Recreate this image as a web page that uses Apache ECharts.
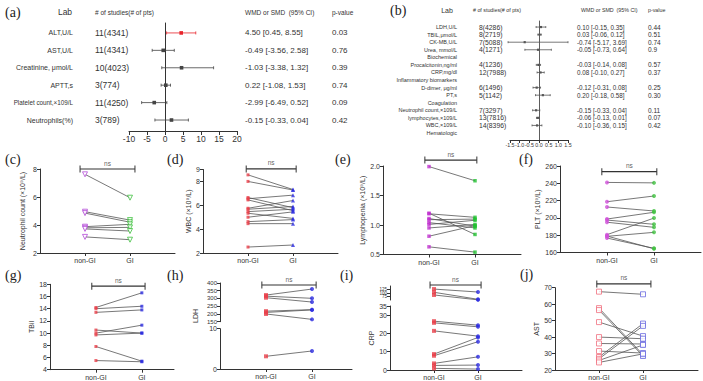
<!DOCTYPE html>
<html>
<head>
<meta charset="utf-8">
<script src="https://cdn.jsdelivr.net/npm/echarts@6/dist/echarts.min.js"></script>
<style>
html, body { margin: 0; padding: 0; background: #fff; }
#chart { width: 703px; height: 381px; }
</style>
</head>
<body>
<div id="chart"></div>
<script>
// ---------- (a) forest plot ----------
const labsA = ['ALT,U/L', 'AST,U/L', 'Creatinine, μmol/L', 'APTT,s', 'Platelet count,×109/L', 'Neutrophils(%)'];
const studiesA = ['11(4341)', '11(4341)', '10(4023)', '3(774)', '11(4250)', '3(789)'];
const estA = [4.5, -0.49, 4.6, 0.22, -2.99, 1.8];
const lowA = [0.45, -3.56, -0.9, -1.08, -6.49, -2.8];
const highA = [8.55, 2.58, 13.5, 1.53, 0.52, 6.5];
const ciTextA = ['4.50 [0.45, 8.55]', '-0.49 [-3.56, 2.58]', '-1.03 [-3.38, 1.32]', '0.22 [-1.08, 1.53]', '-2.99 [-6.49, 0.52]', '-0.15 [-0.33, 0.04]'];
const pA = ['0.03', '0.76', '0.39', '0.74', '0.09', '0.42'];

// ---------- (b) forest plot ----------
const labsB = ['LDH,U/L', 'TBIL,μmol/L', 'CK-MB,U/L', 'Urea, mmol/L', 'Biochemical', 'Procalcitonin,ng/ml', 'CRP,mg/dl',
  'Inflammatory biomarkers', 'D-dimer, μg/ml', 'PT,s', 'Coagulation', 'Neutrophil count,×109/L', 'lymphocytes,×109/L', 'WBC,×109/L', 'Hematologic'];
const studiesB = ['8(4286)', '8(2719)', '7(5088)', '4(1271)', '', '4(1236)', '12(7988)', '', '6(1496)', '5(1142)', '', '7(3297)', '13(7816)', '14(8396)', ''];
const estB = [0.10, 0.03, -0.74, -0.05, null, -0.03, 0.08, null, -0.12, 0.20, null, -0.15, -0.06, -0.10, null];
const lowB = [-0.15, -0.06, -1.6, -0.73, null, -0.14, -0.10, null, -0.31, -0.18, null, -0.33, -0.13, -0.36, null];
const highB = [0.35, 0.12, 1.5, 0.64, null, 0.08, 0.27, null, 0.08, 0.58, null, 0.04, 0.01, 0.15, null];
const ciTextB = ['0.10 [-0.15, 0.35]', '0.03 [-0.06, 0.12]', '-0.74 [-5.17, 3.69]', '-0.05 [-0.73, 0.64]', '', '-0.03 [-0.14, 0.08]', '0.08 [-0.10, 0.27]',
  '', '-0.12 [-0.31, 0.08]', '0.20 [-0.18, 0.58]', '', '-0.15 [-0.33, 0.04]', '-0.06 [-0.13, 0.01]', '-0.10 [-0.36, 0.15]', ''];
const pB = ['0.44', '0.51', '0.74', '0.9', '', '0.57', '0.37', '', '0.25', '0.30', '', '0.11', '0.07', '0.42', ''];

// ---------- paired panels ----------
const groups = ['non-GI', 'GI'];
const cNon = [7.62, 4.95, 4.85, 3.88, 3.8, 3.72, 3.15];
const cGi = [5.95, 4.35, 4.2, 4.05, 3.83, 3.57, 2.95];
const dNon = [8.55, 8.0, 6.65, 6.55, 6.45, 5.75, 5.67, 5.47, 5.33, 5.0, 4.63, 4.46, 2.5];
const dGi = [7.32, 7.28, 5.8, 6.85, 5.55, 6.4, 5.9, 5.67, 4.9, 5.45, 4.8, 4.46, 2.67];
const eNon = [1.99, 1.2, 1.19, 1.11, 1.09, 1.04, 1.01, 0.95, 0.81, 0.63];
const eGi = [1.75, 0.84, 1.13, 0.98, 1.1, 0.95, 1.08, 1.01, 0.99, 0.54];
const fNon = [241, 218.7, 212.6, 198.7, 197.5, 195, 180.6, 178.7, 176.7, 179];
const fGi = [240.5, 225.3, 208, 206.5, 192.6, 189.1, 199.8, 183.3, 164.8, 164.3];
const gNon = [14.2, 14.0, 13.4, 10.5, 10.0, 9.7, 7.8, 5.5];
const gGi = [16.6, 14.4, 13.8, 10.0, 11.3, 10.0, 5.4, 5.3];
const hNonHi = [322, 315, 305, 218, 210, 200];
const hGiHi = [361, 301, 277, 228, 226, 165];
const hNonLo = [3.15];
const hGiLo = [4.47];
const iNonHi = [128, 105, 86];
const iGiHi = [107, 55, 51];
const iNonLo = [26.7, 25.8, 21.4, 8.7, 7.8, 3.6, 2.5, 0.9];
const iGiLo = [24.5, 23.6, 18.5, 17.8, 15.5, 7.2, 2.7, 0.5];
const jNon = [67.6, 57.6, 56.4, 49.1, 40, 36.1, 31.5, 27.9, 26.8, 25.8, 24.6];
const jGi = [66, 29.3, 28.5, 40.6, 39, 35.8, 30.3, 48.2, 46.8, 35.2, 29.8];

const FONT = 'Liberation Sans, Arial, sans-serif';
const SERIF = 'Liberation Serif, DejaVu Serif, serif';
const DARK = '#333';

const chart = echarts.init(document.getElementById('chart'), null, { renderer: 'svg' });

const grids = [], xAxes = [], yAxes = [], series = [];

function addGrid(box, x, y) {
  const i = grids.length;
  grids.push(box);
  xAxes.push(Object.assign({ gridIndex: i }, x));
  yAxes.push(Object.assign({ gridIndex: i }, y));
  return i;
}

function forest(gi, est, lo, hi, rowY, colorOf, cap, pt) {
  const data = [];
  est.forEach((e, i) => {
    if (e === null) return;
    data.push({ value: [e, rowY(i), lo[i], hi[i]], c: colorOf(i) });
  });
  series.push({
    type: 'custom', xAxisIndex: gi, yAxisIndex: gi, data: data, clip: false,
    renderItem: function (params, api) {
      const it = data[params.dataIndex];
      const p = api.coord([api.value(0), api.value(1)]);
      const l = api.coord([api.value(2), api.value(1)]);
      const h = api.coord([api.value(3), api.value(1)]);
      const st = { stroke: it.c, lineWidth: 0.8 };
      return {
        type: 'group', children: [
          { type: 'line', shape: { x1: l[0], y1: l[1], x2: h[0], y2: h[1] }, style: st },
          { type: 'line', shape: { x1: l[0], y1: l[1] - cap, x2: l[0], y2: l[1] + cap }, style: st },
          { type: 'line', shape: { x1: h[0], y1: h[1] - cap, x2: h[0], y2: h[1] + cap }, style: st },
          { type: 'rect', shape: { x: p[0] - pt, y: p[1] - pt, width: pt * 2, height: pt * 2 }, style: { fill: it.c } }
        ]
      };
    }
  });
}

// (a)
const ga = addGrid({ left: 129, top: 23, width: 108, height: 108 },
  { type: 'value', min: -10, max: 20, interval: 5, axisLine: { lineStyle: { color: DARK } },
    axisTick: { length: 4, lineStyle: { color: DARK } },
    axisLabel: { fontSize: 8.5, color: DARK, margin: 3, fontFamily: FONT }, splitLine: { show: false } },
  { type: 'value', min: 0.37, max: 6.57, axisLine: { onZero: true, lineStyle: { color: DARK } },
    axisTick: { show: false }, axisLabel: { show: false }, splitLine: { show: false } });
forest(ga, estA, lowA, highA, i => 6 - i, i => (i === 0 ? '#e8232a' : '#444'), 1.5, 1.8);

// (b)
const gb = addGrid({ left: 510, top: 21, width: 58, height: 119 },
  { type: 'value', min: -1.5, max: 1.5, interval: 0.5, axisLine: { lineStyle: { color: DARK } },
    axisTick: { length: 3, lineStyle: { color: DARK } },
    axisLabel: { fontSize: 5.3, color: DARK, margin: 2, fontFamily: FONT, showMinLabel: true, showMaxLabel: true,
      hideOverlap: false, formatter: v => v.toFixed(1) }, splitLine: { show: false } },
  { type: 'value', min: 0.075, max: 15.8, axisLine: { onZero: true, lineStyle: { color: DARK, width: 0.8 } },
    axisTick: { show: false }, axisLabel: { show: false }, splitLine: { show: false } });
forest(gb, estB, lowB, highB, i => 15 - i, () => '#555', 1, 1.1);

// paired panels
function xAx(max, show) {
  return {
    type: 'value', min: 0, max: max, show: show !== false,
    axisLine: { onZero: false, lineStyle: { color: DARK, width: 1 } },
    axisTick: { customValues: [1, 2], length: 3, lineStyle: { color: DARK } },
    axisLabel: { customValues: [1, 2], formatter: v => (v === 1 ? groups[0] : v === 2 ? groups[1] : ''),
      fontSize: 7, color: DARK, margin: 4, fontFamily: FONT },
    splitLine: { show: false }
  };
}
function yAx(min, max, interval, name, gap, fmt, fs) {
  return {
    type: 'value', min: min, max: max, interval: interval,
    name: name, nameLocation: 'middle', nameGap: gap,
    nameTextStyle: { fontSize: 7, color: DARK, fontFamily: FONT },
    axisLine: { show: true, onZero: false, lineStyle: { color: DARK, width: 1 } },
    axisTick: { show: true, length: 3, lineStyle: { color: DARK } },
    axisLabel: { fontSize: fs || 7, color: DARK, margin: 3, fontFamily: FONT, formatter: fmt },
    splitLine: { show: false }
  };
}
function pairs(gi, non, gis, symNon, symGi) {
  series.push({
    type: 'custom', xAxisIndex: gi, yAxisIndex: gi, z: 1, clip: false,
    data: non.map((v, i) => [v, gis[i]]),
    renderItem: function (params, api) {
      const a = api.coord([1, api.value(0)]), b = api.coord([2, api.value(1)]);
      return { type: 'line', shape: { x1: a[0], y1: a[1], x2: b[0], y2: b[1] }, style: { stroke: '#555', lineWidth: 0.8 } };
    }
  });
  series.push(Object.assign({ type: 'scatter', xAxisIndex: gi, yAxisIndex: gi, z: 3, clip: false, data: non.map(v => [1, v]) }, symNon));
  series.push(Object.assign({ type: 'scatter', xAxisIndex: gi, yAxisIndex: gi, z: 3, clip: false, data: gis.map(v => [2, v]) }, symGi));
}
function bracket(gi, x0, x1, y) {
  series.push({ type: 'line', xAxisIndex: gi, yAxisIndex: gi, data: [[x0, y], [x1, y]], symbol: 'rect', symbolSize: [1, 7],
    showSymbol: true, itemStyle: { color: DARK }, lineStyle: { color: DARK, width: 1.2 }, clip: false, silent: true, z: 4 });
  series.push({ type: 'scatter', xAxisIndex: gi, yAxisIndex: gi, data: [[(x0 + x1) / 2, y]], symbolSize: 1,
    itemStyle: { color: 'rgba(0,0,0,0)' }, clip: false, silent: true,
    label: { show: true, position: 'top', distance: 2, formatter: 'ns', fontSize: 6.5, color: DARK, fontFamily: FONT } });
}
function sym(shape, size, color, hollow, rotate) {
  return { symbol: shape, symbolSize: size, symbolRotate: rotate || 0,
    itemStyle: hollow ? { color: '#fff', borderColor: color, borderWidth: 1 } : { color: color } };
}
const PUR = '#b44cd8', GRN = '#3cbf3c', RED = '#e8404a', BLU = '#2a2ae0';

// (c)
const gc = addGrid({ left: 40, top: 169, width: 135, height: 84 }, xAx(3), yAx(2, 8, 2, 'Neutrophil count (×10⁹/L)', 14));
pairs(gc, cNon, cGi, sym('triangle', 5, PUR, true, 180), sym('triangle', 5, GRN, true, 180));
bracket(gc, 0.89, 2.11, 8);

// (d)
const gd = addGrid({ left: 203, top: 169.5, width: 135, height: 83.5 }, xAx(3), yAx(2, 9, 2, 'WBC (×10⁹/L)', 10));
pairs(gd, dNon, dGi, sym('rect', 3, RED), sym('triangle', 4, BLU));
bracket(gd, 0.96, 2.07, 9.05);

// (e)
const ge = addGrid({ left: 383, top: 166, width: 138, height: 88.5 }, xAx(3), yAx(0.5, 2.0, 0.5, 'Lymphopenia (×10⁹/L)', 17, v => v.toFixed(1)));
pairs(ge, eNon, eGi, sym('rect', 3.5, '#c030d0'), sym('rect', 3.5, '#20c030'));
bracket(ge, 0.91, 2.04, 2.1);

// (f)
const gf = addGrid({ left: 560, top: 166, width: 141, height: 86.5 }, xAx(3), yAx(160, 260, 20, 'PLT (×10⁹/L)', 18));
pairs(gf, fNon, fGi, sym('circle', 4, '#d050d8'), sym('circle', 4, '#40c040'));
bracket(gf, 0.89, 2.06, 253.4);

// (g)
const gg = addGrid({ left: 50, top: 284.3, width: 124, height: 85.4 }, xAx(2.7), yAx(4, 18, 2, 'TBil', 12));
pairs(gg, gNon, gGi, sym('rect', 3, RED), sym('rect', 3, BLU));
bracket(gg, 0.91, 2.07, 17.7);

// (h) broken axis
const ghU = addGrid({ left: 220, top: 283, width: 132, height: 38.7 }, xAx(2.87, false), yAx(150, 400, 50, '', 0, null, 6));
const ghL = addGrid({ left: 220, top: 328.7, width: 132, height: 40.3 }, xAx(2.87), yAx(0, 10, 10, '', 0));
pairs(ghU, hNonHi, hGiHi, sym('rect', 4, RED), sym('circle', 4, BLU));
pairs(ghL, hNonLo, hGiLo, sym('rect', 4, RED), sym('circle', 4, BLU));
bracket(ghU, 0.91, 2.09, 387);

// (i) broken axis
const giU = addGrid({ left: 390, top: 286, width: 132, height: 14 }, xAx(3, false), yAx(50, 150, 25, '', 0, null, 4.5));
const giL = addGrid({ left: 390, top: 306, width: 132, height: 64 }, xAx(3), yAx(0, 35, 10, 'CRP', 14));
pairs(giU, iNonHi, iGiHi, sym('rect', 4, RED), sym('circle', 4, BLU));
pairs(giL, iNonLo, iGiLo, sym('rect', 4, RED), sym('circle', 4, BLU));
bracket(giU, 0.91, 2.07, 157);

// (j)
const gj = addGrid({ left: 555, top: 287.7, width: 143, height: 82.6 }, xAx(3.25), yAx(20, 70, 10, 'AST', 12));
pairs(gj, jNon, jGi, sym('rect', 5, '#f07080', true), sym('rect', 5, '#6a6ae0', true));
bracket(gj, 0.95, 2.18, 72.3);

chart.setOption({
  animation: false,
  textStyle: { fontFamily: FONT },
  grid: grids, xAxis: xAxes, yAxis: yAxes, series: series
});

// ---------- text ----------
const g = [];
function txt(x, y, s, fs, align, extra) {
  g.push(Object.assign({ type: 'text', x: x, y: y, silent: true,
    style: { text: s, fontSize: fs, fill: DARK, fontFamily: FONT, align: align || 'left', verticalAlign: 'middle' } }, extra || {}));
}
const panels = [['(a)', 5, 12], ['(b)', 390, 10], ['(c)', 5, 159], ['(d)', 167, 159], ['(e)', 335, 159], ['(f)', 519, 159],
  ['(g)', 5, 275], ['(h)', 167, 275], ['(i)', 340, 275], ['(j)', 520, 274]];
panels.forEach(p => g.push({ type: 'text', x: p[1], y: p[2], silent: true,
  style: { text: p[0], fontSize: 14, fill: '#222', fontFamily: SERIF, verticalAlign: 'middle' } }));

// headers
txt(65, 12, 'Lab', 8.5, 'center');
txt(95, 12, '# of studies(# of pts)', 6.5);
txt(245, 12, 'WMD or SMD  (95% CI)', 6.5);
txt(332, 12, 'p-value', 6.5);
txt(447, 10, 'Lab', 7, 'center');
txt(473, 10, '# of studies(# of pts)', 5.3);
txt(581, 10, 'WMD or SMD  (95% CI)', 5.3);
txt(648, 10, 'p-value', 5.3);

labsA.forEach((s, i) => {
  const y = chart.convertToPixel({ gridIndex: ga }, [0, 6 - i])[1];
  txt(73, y, s, i === 4 ? 6.3 : 7, 'right');
  txt(95, y, studiesA[i], 8.5);
  txt(245, y, ciTextA[i], 8);
  txt(332, y, pA[i], 8);
});
labsB.forEach((s, i) => {
  const y = chart.convertToPixel({ gridIndex: gb }, [0, 15 - i])[1];
  txt(457, y, s, 5.5, 'right');
  if (studiesB[i]) txt(479, y, studiesB[i], 6.8);
  if (ciTextB[i]) txt(577, y, ciTextB[i], 6.3);
  if (pB[i]) txt(648, y, pB[i], 6.5);
});
// y-axis name spanning the broken LDH axis
g.push({ type: 'text', x: 195, y: 316, rotation: Math.PI / 2, silent: true,
  style: { text: 'LDH', fontSize: 7, fill: DARK, fontFamily: FONT, align: 'center', verticalAlign: 'middle' } });

chart.setOption({ graphic: g });
</script>
</body>
</html>
